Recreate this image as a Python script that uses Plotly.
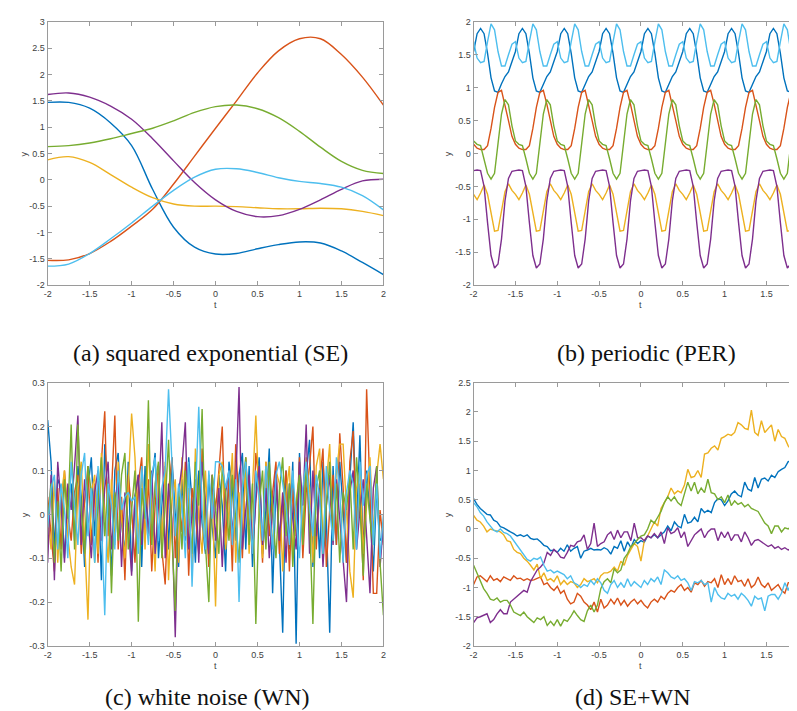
import numpy as np
import plotly.graph_objects as go

# ---------------- colours (MATLAB default order) ----------------
COLORS = ["#0072BD", "#D95319", "#EDB120", "#7E2F8E", "#77AC30", "#4DBEEE"]

# ---------------- (a) squared exponential ----------------
T_SE = [-2, -1.75, -1.5, -1.25, -1, -0.75, -0.5, -0.25, 0, 0.25, 0.5, 0.75, 1, 1.25, 1.5, 1.75, 2]
SE_BLUE = [1.47, 1.47, 1.36, 1.08, 0.65, -0.18, -0.90, -1.28, -1.41, -1.40, -1.31, -1.23, -1.18, -1.20, -1.35, -1.57, -1.80]
SE_RED = [-1.53, -1.52, -1.40, -1.17, -0.88, -0.56, -0.08, 0.45, 0.98, 1.50, 2.03, 2.45, 2.68, 2.68, 2.38, 1.95, 1.42]
SE_YELLOW = [0.38, 0.44, 0.33, 0.10, -0.14, -0.34, -0.46, -0.50, -0.50, -0.51, -0.53, -0.55, -0.55, -0.54, -0.55, -0.60, -0.68]
SE_PURPLE = [1.62, 1.65, 1.57, 1.40, 1.15, 0.78, 0.36, -0.05, -0.38, -0.60, -0.70, -0.68, -0.56, -0.38, -0.18, -0.02, 0.01]
SE_GREEN = [0.63, 0.65, 0.70, 0.78, 0.88, 0.98, 1.12, 1.28, 1.39, 1.42, 1.35, 1.18, 0.92, 0.62, 0.35, 0.18, 0.12]
SE_CYAN = [-1.64, -1.60, -1.40, -1.12, -0.82, -0.50, -0.20, 0.05, 0.20, 0.21, 0.14, 0.04, -0.03, -0.07, -0.14, -0.30, -0.57]

# ---------------- (b) periodic: one period (0.5) read at 12 samples ----------------
PER_N_PERIODS = 8
PER_BLUE = [1.55, 1.82, 1.90, 1.82, 1.52, 1.15, 0.95, 0.93, 1.06, 1.17, 1.24, 1.40]
PER_RED = [0.14, 0.08, 0.06, 0.06, 0.12, 0.38, 0.70, 0.93, 0.96, 0.75, 0.50, 0.26]
PER_YELLOW = [-0.62, -0.70, -0.60, -0.48, -0.62, -0.92, -1.18, -1.17, -0.88, -0.58, -0.46, -0.56]
PER_PURPLE = [-0.26, -0.25, -0.26, -0.50, -1.05, -1.55, -1.74, -1.68, -1.30, -0.72, -0.38, -0.27]
PER_GREEN = [0.19, 0.14, 0.12, -0.08, -0.30, -0.39, -0.30, 0.15, 0.60, 0.82, 0.74, 0.42]
PER_CYAN = [1.70, 1.45, 1.38, 1.40, 1.70, 1.97, 1.88, 1.55, 1.33, 1.33, 1.50, 1.66]

# ---------------- (c) white noise ----------------
WN_BLUE = [.215, .12, -.08, .08, .06, -.10, .03, .07, -.06, .11,
           .04, -.12, .06, .13, -.05, .08, -.15, .16, .03, -.14,
           .10, .14, -.02, -.09, .12, -.13, .04, .09, -.12, .11,
           -.05, .07, .14, -.10, .02, .11, -.08, .13, .00, -.12,
           .08, -.06, .13, .03, -.11, .10, -.02, -.09, .09, -.03,
           -.10, .09, .02, -.13, .12, .06, -.06, .09, .14, -.08,
           .11, -.12, .05, .13, -.09, .01, .15, -.18, .07, -.06,
           -.27, .10, -.08, .12, -.295, .14, -.06, .09, .17, -.12,
           .07, -.10, .12, -.01, -.27, .11, -.07, .12, .01, -.11,
           .08, .21, -.03, .18, -.09, .10, .00, -.13, .06, -.06, -.05]
WN_RED = [.04, -.04, -.13, .06, -.08, .10, .00, -.06, .05, .09,
          -.09, .03, .11, -.07, .07, -.11, .12, .235, -.05, .05,
          .225, -.08, .04, -.15, .09, .01, -.11, .07, .13, -.06,
          .08, -.13, .02, .11, -.08, -.16, .05, .13, -.10, .04,
          -.04, .12, -.14, .06, .00, -.09, .15, .02, -.12, .09,
          .01, .10, .20, -.07, .08, -.13, .16, .02, -.10, .13,
          -.01, -.08, .14, .07, -.11, .12, -.05, .05, .12, -.09,
          .02, .10, -.13, .06, -.05, .13, -.10, .05, .11, .20,
          -.08, .07, .15, -.12, .01, .09, -.07, .185, .06, -.11,
          .12, .19, -.06, .07, -.15, .285, .03, -.18, -.18, .01, -.07]
WN_YELLOW = [.00, -.08, .08, -.11, .04, .10, -.05, -.12, -.16, .06,
             .12, -.06, -.24, .05, .09, -.09, .14, .01, -.11, .08,
             -.07, .12, -.01, -.10, .06, .23, .13, -.06, .10, -.08,
             .16, .01, -.13, .09, -.07, .12, -.15, .03, .08, -.11,
             .13, -.05, .06, -.12, .15, -.01, -.09, .10, -.06, .05,
             -.21, .09, .12, -.08, .01, .14, -.11, .05, -.06, .11,
             -.09, .06, .225, .02, -.10, .12, .00, -.07, .10, .07,
             -.13, .05, .11, -.09, .03, .09, -.05, .13, .06, -.11,
             .11, .15, -.07, .07, .16, -.06, .10, .16, .16, .01,
             -.13, -.19, .06, .10, -.09, .02, .13, -.05, .09, .16, .08]
WN_PURPLE = [-.11, .09, -.15, .12, .02, -.11, .07, .01, .11, .225,
             -.07, .08, -.01, -.10, .05, .10, -.06, .06, .12, -.08,
             .03, .08, -.12, .05, -.02, -.14, .04, .09, -.07, .06,
             -.05, .10, -.09, .02, .21, -.10, .07, -.01, -.28, .05,
             .11, .21, -.08, .01, .08, -.11, .12, .02, -.09, .09,
             -.06, .06, -.12, .05, .10, -.05, .07, .29, -.08, .01,
             .09, -.09, .03, .11, -.07, .06, -.10, .01, .10, -.06,
             .05, -.11, .07, -.01, -.08, .12, .02, .205, -.09, .10,
             -.05, .06, -.12, .02, .09, -.07, .08, -.01, -.10, -.20,
             .05, .10, -.08, .01, .08, -.06, -.18, .06, .11, -.12, -.02]
WN_GREEN = [-.02, .07, -.11, .03, -.13, .08, -.01, .205, -.08, .205,
            .01, -.09, .11, .05, -.11, .03, .13, -.05, .07, -.18,
            .05, -.06, .09, .14, -.08, .01, .10, -.245, .06, -.01,
            .26, -.07, .07, .12, -.10, .02, .17, -.05, -.22, .06,
            -.08, .10, .01, -.09, .12, .02, .24, -.07, -.20, .09,
            .01, -.09, .11, .05, -.06, .09, -.01, -.11, .06, .13,
            -.07, .07, -.25, .02, .10, -.08, .12, .01, -.10, .05,
            .13, -.05, .07, -.12, .02, .09, -.07, .11, -.01, -.25,
            .06, .10, -.09, .02, .12, -.06, .07, -.11, .05, .01,
            .09, -.08, .13, .02, -.14, .07, -.01, -.07, .11, -.11, -.23]
WN_CYAN = [-.03, .06, .09, -.08, .07, .01, -.10, .12, .02, -.07,
           .09, .14, -.05, .06, -.11, .11, -.01, -.23, .07, .02,
           -.08, .10, .01, .04, .05, .03, .04, -.09, .11, .01,
           -.07, .09, .13, -.06, .06, .10, .285, .12, -.05, .07,
           .02, -.10, .12, -.165, .05, .245, .01, -.08, .10, -.01,
           .12, .12, .11, .06, .10, -.07, .08, -.20, .06, .12,
           .02, -.09, .10, .04, -.06, .11, .01, -.08, .09, .12,
           .07, .02, -.07, .10, -.01, -.10, .06, .12, .02, -.05,
           .09, .04, -.09, .11, .01, -.06, .13, .05, -.11, .05,
           .10, .07, -.08, .12, .02, .09, .11, -.07, .07, -.10, .00]

# ---------------- (d) SE + WN ----------------
SW_BLUE = [0.52, 0.42, 0.35, 0.30, 0.25, 0.24, 0.15, 0.12, 0.04, 0.02,
           -0.02, -0.05, -0.08, -0.12, -0.10, -0.13, -0.10, -0.16, -0.18, -0.17,
           -0.22, -0.28, -0.30, -0.37, -0.36, -0.40, -0.33, -0.38, -0.27, -0.38,
           -0.33, -0.30, -0.50, -0.38, -0.36, -0.33, -0.36, -0.35, -0.36, -0.32,
           -0.35, -0.43, -0.30, -0.33, -0.20, -0.38, -0.22, -0.32, -0.18, -0.25,
           -0.20, -0.23, -0.12, -0.15, -0.10, -0.15, -0.10, -0.05, 0.05, -0.03,
           0.12, 0.05, 0.02, 0.25, 0.10, 0.12, 0.20, 0.12, 0.35, 0.28,
           0.32, 0.28, 0.45, 0.52, 0.50, 0.40, 0.48, 0.60, 0.65, 0.58,
           0.55, 0.80, 0.68, 0.65, 0.88, 0.70, 0.85, 0.87, 0.82, 0.92,
           0.88, 0.98, 1.02, 1.05, 1.15, 1.17, 1.13, 1.15, 1.12, 1.18, 1.20]
SW_RED = [-0.95, -0.82, -0.80, -0.85, -0.90, -0.80, -0.88, -0.85, -0.90, -0.82,
          -0.85, -0.88, -0.80, -0.85, -0.84, -0.88, -0.85, -0.88, -0.87, -0.85,
          -0.82, -0.95, -0.92, -1.00, -1.05, -0.98, -1.10, -1.05, -1.20, -1.28,
          -1.25, -1.10, -1.15, -1.25, -1.30, -1.38, -1.25, -1.42, -1.20, -1.35,
          -1.30, -1.20, -1.28, -1.18, -1.30, -1.22, -1.32, -1.25, -1.20, -1.28,
          -1.22, -1.30, -1.35, -1.25, -1.20, -1.25, -1.15, -1.20, -1.10, -1.05,
          -1.08, -1.00, -0.95, -1.05, -1.00, -1.08, -0.92, -0.95, -0.88, -0.98,
          -0.90, -0.92, -0.85, -1.00, -0.78, -0.95, -0.85, -0.95, -0.80, -0.90,
          -0.88, -0.98, -0.85, -1.00, -0.95, -0.82, -0.95, -1.00, -0.92, -1.05,
          -1.00, -0.95, -1.05, -1.10, -0.92, -0.90, -0.88, -0.85, -0.88, -0.92, -0.93]
SW_YELLOW = [0.23, 0.15, 0.12, 0.05, -0.05, 0.00, -0.02, -0.03, -0.05, -0.10,
             -0.20, -0.22, -0.35, -0.40, -0.42, -0.50, -0.55, -0.62, -0.70, -0.60,
             -0.85, -0.75, -0.88, -0.85, -0.90, -0.80, -0.95, -0.88, -0.95, -0.90,
             -0.92, -1.00, -0.95, -0.85, -0.90, -0.88, -0.85, -0.92, -0.80, -0.75,
             -0.75, -0.72, -0.65, -0.72, -0.55, -0.62, -0.45, -0.35, -0.25, -0.30,
             -0.55, -0.20, -0.12, 0.00, 0.12, 0.05, 0.35, 0.45, 0.55, 0.70,
             0.60, 0.65, 0.62, 0.75, 1.02, 0.88, 0.90, 1.00, 0.88, 1.28,
             1.30, 1.38, 1.42, 1.35, 1.55, 1.58, 1.62, 1.60, 1.65, 1.82,
             1.78, 1.72, 1.70, 2.03, 1.65, 1.60, 1.85, 1.65, 1.72, 1.78,
             1.50, 1.70, 1.58, 1.55, 1.42, 1.35, 1.28, 1.25, 1.15, 1.12, 1.10]
SW_PURPLE = [-1.60, -1.52, -1.50, -1.48, -1.45, -1.60, -1.55, -1.45, -1.38, -1.45,
             -1.45, -1.25, -1.20, -1.15, -1.10, -1.05, -1.08, -0.90, -0.80, -0.70,
             -0.65, -0.58, -0.40, -0.45, -0.35, -0.40, -0.48, -0.50, -0.40, -0.28,
             -0.30, -0.22, -0.20, -0.10, -0.35, -0.25, 0.10, -0.30, -0.25, -0.22,
             -0.10, -0.05, -0.18, -0.02, -0.15, -0.05, -0.05, -0.20, 0.10, -0.15,
             -0.15, -0.20, -0.12, -0.15, -0.08, -0.15, -0.05, -0.25, 0.02, -0.08,
             -0.05, 0.02, -0.15, -0.05, -0.30, -0.20, -0.10, -0.05, 0.00, -0.15,
             -0.05, 0.00, 0.00, -0.20, -0.05, -0.15, -0.05, -0.20, -0.10, -0.10,
             -0.22, -0.05, -0.15, -0.28, -0.20, -0.18, -0.22, -0.25, -0.30, -0.27,
             -0.33, -0.30, -0.35, -0.32, -0.36, -0.33, -0.35, -0.38, -0.40, -0.42, -0.40]
SW_GREEN = [-0.62, -0.75, -0.90, -1.02, -1.10, -1.20, -1.22, -1.18, -1.25, -1.22,
            -1.22, -1.30, -1.42, -1.45, -1.48, -1.42, -1.50, -1.55, -1.60, -1.52,
            -1.55, -1.50, -1.65, -1.58, -1.65, -1.55, -1.66, -1.55, -1.58, -1.50,
            -1.40, -1.48, -1.55, -1.58, -1.40, -1.30, -1.42, -1.30, -1.02, -0.90,
            -0.85, -0.92, -0.68, -0.75, -0.70, -0.50, -0.42, -0.30, -0.25, -0.18,
            -0.12, -0.10, 0.00, 0.15, 0.10, 0.20, 0.30, 0.45, 0.55, 0.48,
            0.55, 0.45, 0.40, 0.60, 0.80, 0.65, 0.80, 0.60, 0.70, 0.62,
            0.85, 0.62, 0.60, 0.50, 0.55, 0.45, 0.58, 0.40, 0.48, 0.42,
            0.45, 0.38, 0.42, 0.35, 0.33, 0.30, 0.20, 0.10, 0.05, -0.08,
            0.05, 0.05, -0.05, 0.02, 0.00, 0.05, -0.18, -0.05, 0.02, -0.08, -0.10]
SW_CYAN = [0.45, 0.38, 0.28, 0.22, 0.12, 0.05, -0.02, -0.05, 0.00, -0.06,
           -0.08, -0.12, -0.20, -0.30, -0.38, -0.45, -0.52, -0.55, -0.50, -0.52,
           -0.48, -0.62, -0.72, -0.70, -0.75, -0.72, -0.75, -0.78, -0.85, -0.80,
           -0.92, -0.95, -1.00, -0.95, -0.98, -0.88, -0.95, -0.85, -0.92, -1.05,
           -1.10, -0.95, -0.88, -1.00, -0.92, -1.00, -0.85, -0.98, -0.90, -0.95,
           -1.00, -0.88, -0.95, -0.85, -0.90, -0.82, -0.95, -0.70, -0.75, -0.82,
           -0.85, -0.80, -0.88, -0.85, -0.92, -1.05, -0.90, -0.92, -0.88, -0.95,
           -0.92, -1.25, -1.00, -1.12, -1.18, -1.20, -1.10, -1.15, -1.12, -1.20,
           -1.10, -1.15, -1.22, -1.32, -1.15, -1.20, -1.18, -1.40, -1.15, -1.12,
           -1.12, -1.20, -1.10, -0.92, -1.05, -0.90, -0.82, -0.78, -0.80, -0.78, -0.80]

# ---------------- tick labels ----------------
X_TICKS = [-2, -1.5, -1, -0.5, 0, 0.5, 1, 1.5, 2]
X_TICKTEXT = ["-2", "-1.5", "-1", "-0.5", "0", "0.5", "1", "1.5", "2"]
YA_TICKS = [-2, -1.5, -1, -0.5, 0, 0.5, 1, 1.5, 2, 2.5, 3]
YA_TICKTEXT = ["-2", "-1.5", "-1", "-0.5", "0", "0.5", "1", "1.5", "2", "2.5", "3"]
YB_TICKS = [-2, -1.5, -1, -0.5, 0, 0.5, 1, 1.5, 2]
YB_TICKTEXT = ["-2", "-1.5", "-1", "-0.5", "0", "0.5", "1", "1.5", "2"]
YC_TICKS = [-0.3, -0.2, -0.1, 0, 0.1, 0.2, 0.3]
YC_TICKTEXT = ["-0.3", "-0.2", "-0.1", "0", "0.1", "0.2", "0.3"]
YD_TICKS = [-2, -1.5, -1, -0.5, 0, 0.5, 1, 1.5, 2, 2.5]
YD_TICKTEXT = ["-2", "-1.5", "-1", "-0.5", "0", "0.5", "1", "1.5", "2", "2.5"]

CAPTIONS = ["(a) squared exponential (SE)", "(b) periodic (PER)",
            "(c) white noise (WN)", "(d) SE+WN"]

# ---------------- build figure ----------------
W, H = 797, 711
fig = go.Figure()

T_PER = np.linspace(-2, 2, 12 * PER_N_PERIODS + 1)
T_N = np.linspace(-2, 2, 101)

panels = [
    ("x", "y", T_SE, [SE_BLUE, SE_RED, SE_YELLOW, SE_PURPLE, SE_GREEN, SE_CYAN], "spline"),
    ("x2", "y2", T_PER, [p * PER_N_PERIODS + [p[0]] for p in
                         [PER_BLUE, PER_RED, PER_YELLOW, PER_PURPLE, PER_GREEN, PER_CYAN]], "linear"),
    ("x3", "y3", T_N, [WN_BLUE, WN_RED, WN_YELLOW, WN_PURPLE, WN_GREEN, WN_CYAN], "linear"),
    ("x4", "y4", T_N, [SW_BLUE, SW_RED, SW_YELLOW, SW_PURPLE, SW_GREEN, SW_CYAN], "linear"),
]
for xa, ya, tt, series, shape in panels:
    for col, vals in zip(COLORS, series):
        fig.add_trace(go.Scatter(x=tt, y=vals, xaxis=xa, yaxis=ya, mode="lines",
                                 line=dict(color=col, width=1.4, shape=shape),
                                 showlegend=False, hoverinfo="skip"))

AX_COL = "#9a9a9a"
TICKFONT = dict(family="Liberation Sans, Arial, sans-serif", size=9, color="#404040")


def ax(domain, rng, tv, tt, anchor, mirror):
    return dict(domain=domain, range=rng, tickmode="array", tickvals=tv, ticktext=tt,
                showline=True, linecolor=AX_COL, linewidth=1, mirror=mirror,
                ticks="inside", ticklen=4, tickcolor=AX_COL, tickwidth=1,
                showgrid=False, zeroline=False, tickfont=TICKFONT, anchor=anchor,
                fixedrange=True)


def px(x):
    return x / W


def py(y):
    return 1 - y / H


XL = [px(36), px(374.7)]
XR = [px(465.7), 1.0]
YT = [py(276), py(9)]
YB = [py(642), py(375)]

fig.update_layout(
    width=W, height=H, margin=dict(l=0, r=0, t=0, b=0),
    paper_bgcolor="white", plot_bgcolor="white",
    xaxis=ax(XL, [-2, 2], X_TICKS, X_TICKTEXT, "y", "ticks"),
    yaxis=ax(YT, [-2, 3], YA_TICKS, YA_TICKTEXT, "x", "ticks"),
    xaxis2=ax(XR, [-2, 1.925], X_TICKS, X_TICKTEXT, "y2", "ticks"),
    yaxis2=ax(YT, [-2, 2], YB_TICKS, YB_TICKTEXT, "x2", False),
    xaxis3=ax(XL, [-2, 2], X_TICKS, X_TICKTEXT, "y3", "ticks"),
    yaxis3=ax(YB, [-0.3, 0.3], YC_TICKS, YC_TICKTEXT, "x3", "ticks"),
    xaxis4=ax(XR, [-2, 1.925], X_TICKS, X_TICKTEXT, "y4", "ticks"),
    yaxis4=ax(YB, [-2, 2.5], YD_TICKS, YD_TICKTEXT, "x4", False),
)

LABFONT = dict(family="Liberation Sans, Arial, sans-serif", size=9, color="#404040")
CAPFONT = dict(family="Liberation Serif, Times New Roman, serif", size=24, color="#111111")
ann = []
for (cx, ty, yx, yy) in [(205.3, 296, 13, 142.5), (634.3, 296, 440.7, 142.5),
                         (205.3, 662, 13, 508.5), (634.3, 662, 440.7, 508.5)]:
    ann.append(dict(text="t", x=px(cx), y=py(ty), xref="paper", yref="paper",
                    showarrow=False, xanchor="center", yanchor="middle", font=LABFONT))
    ann.append(dict(text="y", x=px(yx), y=py(yy), xref="paper", yref="paper", textangle=-90,
                    showarrow=False, xanchor="center", yanchor="middle", font=LABFONT))
for cap, (cx, cy) in zip(CAPTIONS, [(200, 345), (640, 345), (197, 694), (626, 694)]):
    ann.append(dict(text=cap, x=px(cx), y=py(cy), xref="paper", yref="paper",
                    showarrow=False, xanchor="center", yanchor="middle", font=CAPFONT))
fig.update_layout(annotations=ann)

fig.write_html("out.html")
